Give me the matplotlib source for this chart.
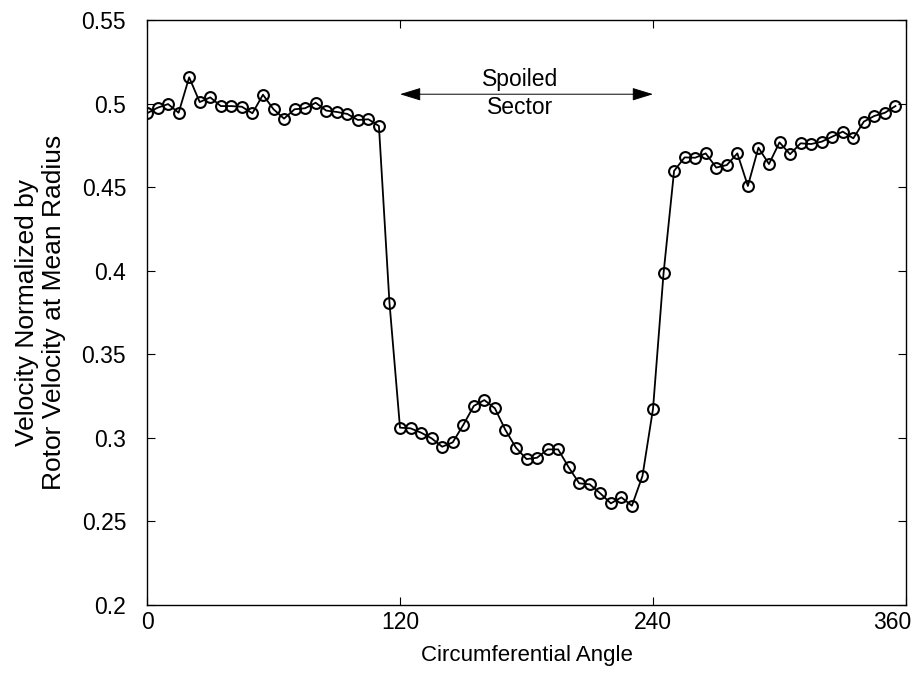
import numpy as np
import matplotlib.pyplot as plt
import matplotlib.transforms as mtransforms

# data (every 5 degrees, 0..355)
angle = list(range(0, 360, 5))
velocity = [
    0.4942, 0.4975, 0.4997, 0.4945, 0.5157, 0.5009, 0.5037, 0.4985,
    0.4985, 0.4981, 0.4942, 0.5053, 0.4966, 0.4910, 0.4966, 0.4972,
    0.5005, 0.4958, 0.4950, 0.4938, 0.4902, 0.4906, 0.4866, 0.3809,
    0.3061, 0.3057, 0.3031, 0.2997, 0.2947, 0.2973, 0.3077, 0.3191,
    0.3226, 0.3177, 0.3047, 0.2941, 0.2873, 0.2881, 0.2931, 0.2931,
    0.2824, 0.2728, 0.2722, 0.2668, 0.2608, 0.2644, 0.2594, 0.2772,
    0.3173, 0.3984, 0.4597, 0.4678, 0.4676, 0.4702, 0.4617, 0.4632,
    0.4702, 0.4507, 0.4736, 0.4638, 0.4768, 0.4697, 0.4762, 0.4758,
    0.4772, 0.4802, 0.4832, 0.4792, 0.4892, 0.4926, 0.4945, 0.4985,
]
x_ticks = [0, 120, 240, 360]
y_ticks = [0.2, 0.25, 0.3, 0.35, 0.4, 0.45, 0.5, 0.55]
y_tick_labels = ["0.2", "0.25", "0.3", "0.35", "0.4", "0.45", "0.5", "0.55"]

plt.rcParams["font.family"] = ["Liberation Sans", "DejaVu Sans"]

fig = plt.figure(figsize=(9.16, 6.79), dpi=100)
ax = fig.add_axes([147 / 916, 1 - 605 / 679, (906 - 147) / 916, (605 - 20) / 679])

ax.plot(angle, velocity, color="black", linewidth=1.3, marker="o",
        markersize=7.8, markerfacecolor="none", markeredgecolor="black",
        markeredgewidth=1.5)

ax.set_xlim(0, 360)
ax.set_ylim(0.2, 0.55)
ax.set_xticks(x_ticks)
ax.set_yticks(y_ticks)
ax.set_yticklabels(y_tick_labels)
ax.tick_params(direction="in", length=6, width=0.8, labelsize=16.5,
               top=True, right=True)
ax.tick_params(axis="x", pad=4)
ax.tick_params(axis="y", pad=15)
for s in ax.spines.values():
    s.set_linewidth(1.0)

# nudge the last x tick label inside the figure
xlabels = ax.get_xticklabels()
offset = mtransforms.ScaledTranslation(-14 / 100, 0, fig.dpi_scale_trans)
xlabels[-1].set_transform(xlabels[-1].get_transform() + offset)

ax.set_xlabel("Circumferential Angle", fontsize=16, labelpad=8)
ax.set_ylabel("Velocity Normalized by\nRotor Velocity at Mean Radius",
              fontsize=19, labelpad=11, linespacing=1.15)

# spoiled sector annotation
ax.annotate("", xy=(120, 0.5056), xytext=(240, 0.5056),
            arrowprops=dict(arrowstyle="<|-|>,head_length=1.3,head_width=0.4",
                            color="black", linewidth=0.7, shrinkA=0, shrinkB=0))
ax.text(177, 0.5147, "Spoiled", ha="center", va="center", fontsize=16.5)
ax.text(177, 0.4975, "Sector", ha="center", va="center", fontsize=16.5)

fig.savefig("out.png", dpi=100)
